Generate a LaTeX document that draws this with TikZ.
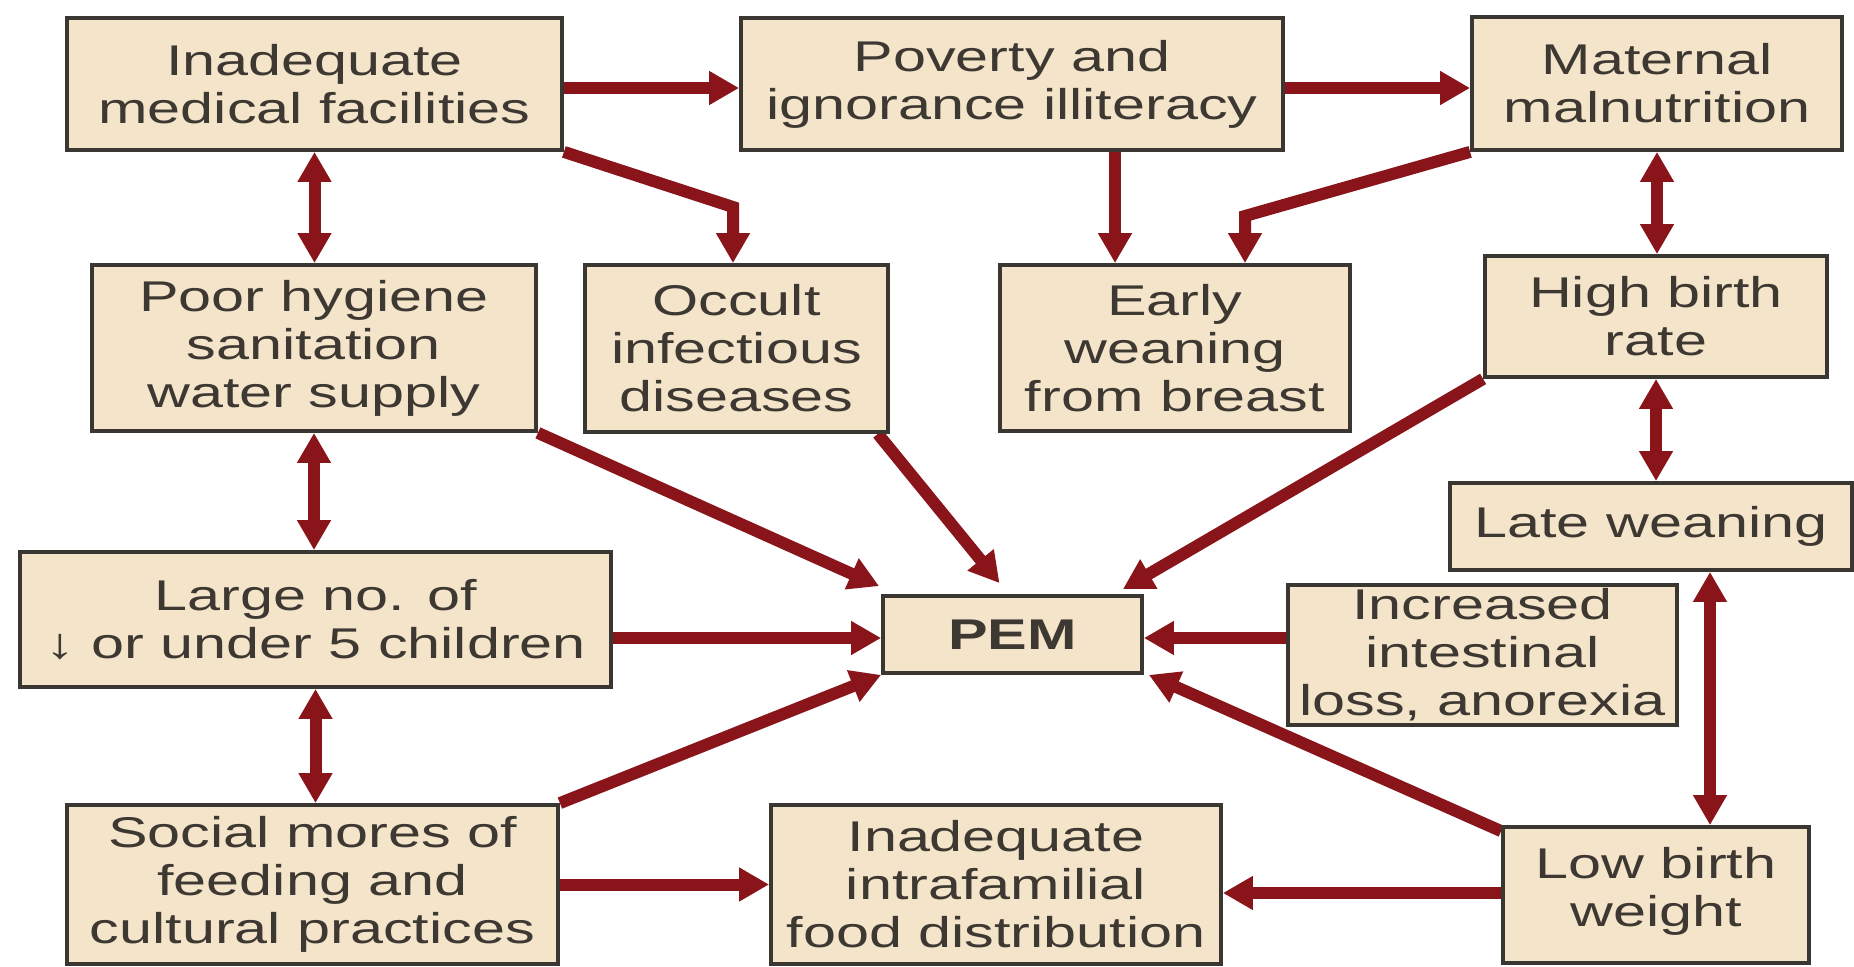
\documentclass[tikz,border=0pt]{standalone}
\usepackage{fontspec}
\setmainfont[FakeStretch=1.38]{Liberation Sans}
\usetikzlibrary{arrows.meta,calc,backgrounds}
\definecolor{boxfill}{RGB}{244,228,202}
\definecolor{boxline}{RGB}{58,54,50}
\definecolor{txt}{RGB}{62,56,50}
\definecolor{arrowred}{RGB}{137,20,26}
\begin{document}
\begin{tikzpicture}[x=1pt,y=-1pt,
  box/.style={draw=boxline, line width=3.8pt, fill=boxfill, text=txt, align=center,
    inner sep=0pt, font=\fontsize{43pt}{48pt}\selectfont},
  arr/.style={draw=arrowred, line width=12pt, -{Triangle[length=30pt,width=32pt]}},
  darr/.style={draw=arrowred, line width=12pt,
    {Triangle[length=30pt,width=32pt]}-{Triangle[length=30pt,width=32pt]}}]
\useasboundingbox (0,0) rectangle (1854,966);

\node[box, minimum width=495pt, minimum height=132pt] (A) at (314.5,84) {Inadequate\\medical facilities};
\node[box, minimum width=542pt, minimum height=132pt] (B) at (1012,84) {Poverty and\\ignorance illiteracy};
\node[box, minimum width=370pt, minimum height=133pt] (C) at (1657,83.5) {Maternal\\malnutrition};
\node[box, minimum width=444pt, minimum height=166pt] (D) at (314,348) {Poor hygiene\\sanitation\\water supply};
\node[box, minimum width=303pt, minimum height=167pt] (E) at (736.5,348.5) {Occult\\infectious\\diseases};
\node[box, minimum width=350pt, minimum height=166pt] (F) at (1175,348) {Early\\weaning\\from breast};
\node[box, minimum width=342pt, minimum height=121pt] (G) at (1656,316.5) {High birth\\rate};
\node[box, minimum width=402pt, minimum height=87pt] (H) at (1651,526.5) {Late weaning};
\node[box, minimum width=591pt, minimum height=135pt] (I) at (315.5,619.5) {Large no. of\\↓ or under 5 children};
\node[box, minimum width=259pt, minimum height=77pt] (J) at (1012.5,634.5) {\bfseries PEM};
\node[box, minimum width=389pt, minimum height=140pt] (K) at (1482.5,655) {Increased\\intestinal\\loss, anorexia};
\node[box, minimum width=491pt, minimum height=159pt] (L) at (312.5,884.5) {Social mores of\\feeding and\\cultural practices};
\node[box, minimum width=450pt, minimum height=159pt] (M) at (996,884.5) {Inadequate\\intrafamilial\\food distribution};
\node[box, minimum width=306pt, minimum height=136pt, text depth=16pt] (N) at (1656,895) {Low birth\\weight};

\coordinate (r1) at (0,88);
\coordinate (r2) at (0,638);
\coordinate (r3) at (0,893);
\coordinate (bf) at (1115,0);
\coordinate (hn) at (1710,0);
\coordinate (ae) at (733,207);
\coordinate (cf) at (1245,216);

\begin{scope}[on background layer]
\fill[white] (0,0) rectangle (1854,966);
% top row
\draw[arr] (A.east |- r1) -- (B.west |- r1);
\draw[arr] (B.east |- r1) -- (C.west |- r1);
\draw[arr] (A.south east) -- (ae) -- (ae |- E.north);
\draw[arr] (bf |- B.south) -- (bf |- F.north);
\draw[arr] (C.south west) -- (cf) -- (cf |- F.north);
% vertical double arrows
\draw[darr] (A.south) -- (A.south |- D.north);
\draw[darr] (D.south) -- (D.south |- I.north);
\draw[darr] (I.south) -- (I.south |- L.north);
\draw[darr] (C.south) -- (C.south |- G.north);
\draw[darr] (G.south) -- (G.south |- H.north);
\draw[darr] (hn |- H.south) -- (hn |- N.north);
% into PEM
\draw[arr] (D.south east) -- ($(J.north west)+(-2,-8)$);
\draw[arr] ($(E.south east)+(-12,0)$) -- ($(J.north)+(-13,-11)$);
\draw[arr] (G.south west) -- ($(J.north east)+(-21,-5)$);
\draw[arr] (I.east |- r2) -- (J.west |- r2);
\draw[arr] (K.west |- r2) -- (J.east |- r2);
\draw[arr] (L.north east) -- (J.south west);
\draw[arr] ($(N.north west)+(0,6)$) -- ($(J.south east)+(5,0)$);
% bottom row
\draw[arr] (L.east) -- (M.west);
\draw[arr] (N.west |- r3) -- (M.east |- r3);
\end{scope}
\end{tikzpicture}
\end{document}
